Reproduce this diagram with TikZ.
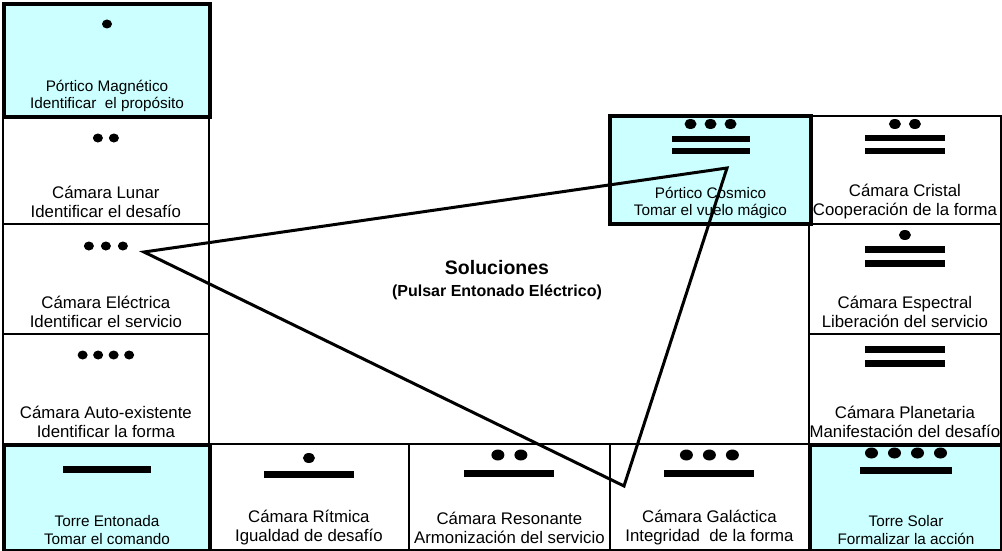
\documentclass[tikz,border=0pt]{standalone}
\usepackage{fontspec}
\setmainfont{Liberation Sans}
\usetikzlibrary{positioning}
\definecolor{celeste}{HTML}{CCFFFF}
% puntos: caja, bajada, cantidad, paso, radio x, radio y
\newcommand{\puntos}[6]{%
  \foreach \k in {1,...,#3}
    \fill ([xshift={(\k-(#3+1)/2)*#4pt}, yshift=-#2pt]#1.north) ellipse (#5pt and #6pt);}
% barra: caja, bajada, largo, grosor
\newcommand{\barra}[4]{%
  \fill ([xshift=-#3pt/2, yshift={-#2pt+#4pt/2}]#1.north) rectangle ++(#3pt,-#4pt);}

\begin{document}
\begin{tikzpicture}[
  x=1pt,
  y=-1pt,
  caja/.style={draw, line width=1.8pt, inner sep=0pt, anchor=north west},
  portal/.style={caja, fill=celeste, line width=4pt},
  texto/.style={font=\fontsize{16.8}{19}\selectfont, align=center, inner sep=0pt},
  textoportal/.style={texto, font=\fontsize{15.3}{17.5}\selectfont},
  titulo/.style={font=\bfseries\fontsize{19.5}{24}\selectfont, inner sep=0pt},
  subtitulo/.style={font=\bfseries\fontsize{16}{20}\selectfont, inner sep=0pt},
  triangulo/.style={line width=3pt}
]
  \useasboundingbox (0,0) rectangle (1002,551);

  % ---- camaras blancas -------------------------------------------------
  \node[caja, minimum width=206pt, minimum height=108pt] (lunar) at (2,115) {};
  \node[caja, minimum width=206pt, minimum height=110pt] (electrica) at (2,223) {};
  \node[caja, minimum width=206pt, minimum height=110pt] (autoexistente) at (2,333) {};
  \node[caja, minimum width=200pt, minimum height=106pt] (ritmica) at (208,443) {};
  \node[caja, minimum width=201pt, minimum height=106pt] (resonante) at (408,443) {};
  \node[caja, minimum width=199pt, minimum height=106pt] (galactica) at (609,443) {};
  \node[caja, minimum width=192pt, minimum height=108pt] (cristal) at (808,115) {};
  \node[caja, minimum width=192pt, minimum height=110pt] (espectral) at (808,223) {};
  \node[caja, minimum width=192pt, minimum height=110pt] (planetaria) at (808,333) {};

  % ---- porticos y torres -----------------------------------------------
  \node[portal, minimum width=206pt, minimum height=113pt] (magnetico) at (2,2) {};
  \node[portal, minimum width=206pt, minimum height=106pt] (entonada) at (2,443) {};
  \node[portal, minimum width=192pt, minimum height=106pt] (solar) at (808,443) {};
  \node[portal, minimum width=201pt, minimum height=108pt] (cosmico) at (608,114) {};

  % ---- numerales -------------------------------------------------------
  \puntos{magnetico}{22}{1}{16}{5}{4.5}
  \puntos{lunar}{23}{2}{16}{5}{4.5}
  \puntos{electrica}{23}{3}{17}{5}{4.5}
  \puntos{autoexistente}{22}{4}{15.5}{5}{4.5}

  \barra{entonada}{26}{88}{7}
  \puntos{ritmica}{15}{1}{20}{6}{5}
  \barra{ritmica}{31}{90}{7}
  \puntos{resonante}{12}{2}{23}{6.5}{5.5}
  \barra{resonante}{30}{90}{7}
  \puntos{galactica}{12}{3}{23}{6.5}{5.5}
  \barra{galactica}{30}{90}{7}
  \puntos{solar}{10}{4}{23}{6.5}{5.5}
  \barra{solar}{27}{92}{7}

  \puntos{cosmico}{10}{3}{20}{6}{5}
  \barra{cosmico}{25}{78}{6}
  \barra{cosmico}{37}{78}{6}
  \puntos{cristal}{9}{2}{20}{6}{5}
  \barra{cristal}{23}{80}{6}
  \barra{cristal}{36}{80}{6}
  \puntos{espectral}{12}{1}{20}{6}{5}
  \barra{espectral}{26}{80}{7}
  \barra{espectral}{40}{80}{7}
  \barra{planetaria}{16}{80}{7}
  \barra{planetaria}{30}{80}{7}

  % ---- nombres ---------------------------------------------------------
  \node[textoportal] (magnetico-t) at ([yshift=23pt]magnetico.south)
    {Pórtico Magnético\\Identificar~ el propósito};
  \node[texto] (lunar-t) at ([yshift=23pt]lunar.south)
    {Cámara Lunar\\Identificar el desafío};
  \node[texto] (electrica-t) at ([yshift=23pt]electrica.south)
    {Cámara Eléctrica\\Identificar el servicio};
  \node[texto] (autoexistente-t) at ([yshift=23pt]autoexistente.south)
    {Cámara Auto-existente\\Identificar la forma};
  \node[textoportal] (entonada-t) at ([yshift=23pt]entonada.south)
    {Torre Entonada\\Tomar el comando};
  \node[texto] (ritmica-t) at ([yshift=23pt]ritmica.south)
    {Cámara Rítmica\\Igualdad de desafío};
  \node[texto] (resonante-t) at ([yshift=23pt]resonante.south)
    {Cámara Resonante\\Armonización del servicio};
  \node[texto] (galactica-t) at ([yshift=23pt]galactica.south)
    {Cámara Galáctica\\Integridad~ de la forma};
  \node[textoportal] (solar-t) at ([yshift=23pt]solar.south)
    {Torre Solar\\Formalizar la acción};
  \node[textoportal] (cosmico-t) at ([yshift=23pt]cosmico.south)
    {Pórtico Cosmico\\Tomar el vuelo mágico};
  \node[texto] (cristal-t) at ([yshift=23pt]cristal.south)
    {Cámara Cristal\\Cooperación de la forma};
  \node[texto] (espectral-t) at ([yshift=23pt]espectral.south)
    {Cámara Espectral\\Liberación del servicio};
  \node[texto] (planetaria-t) at ([yshift=23pt]planetaria.south)
    {Cámara Planetaria\\Manifestación del desafío};

  % ---- centro ----------------------------------------------------------
  \node[titulo] (soluciones) at (497,268) {Soluciones};
  \node[subtitulo] (pulsar) at (497,292) {(Pulsar Entonado Eléctrico)};

  % ---- triangulo -------------------------------------------------------
  \coordinate (v-electrica) at (144,252);
  \coordinate (v-cosmico) at (727,168);
  \coordinate (v-galactica) at (624,486);
  \draw[triangulo] (v-electrica) -- (v-cosmico) -- (v-galactica) -- cycle;
\end{tikzpicture}
\end{document}
